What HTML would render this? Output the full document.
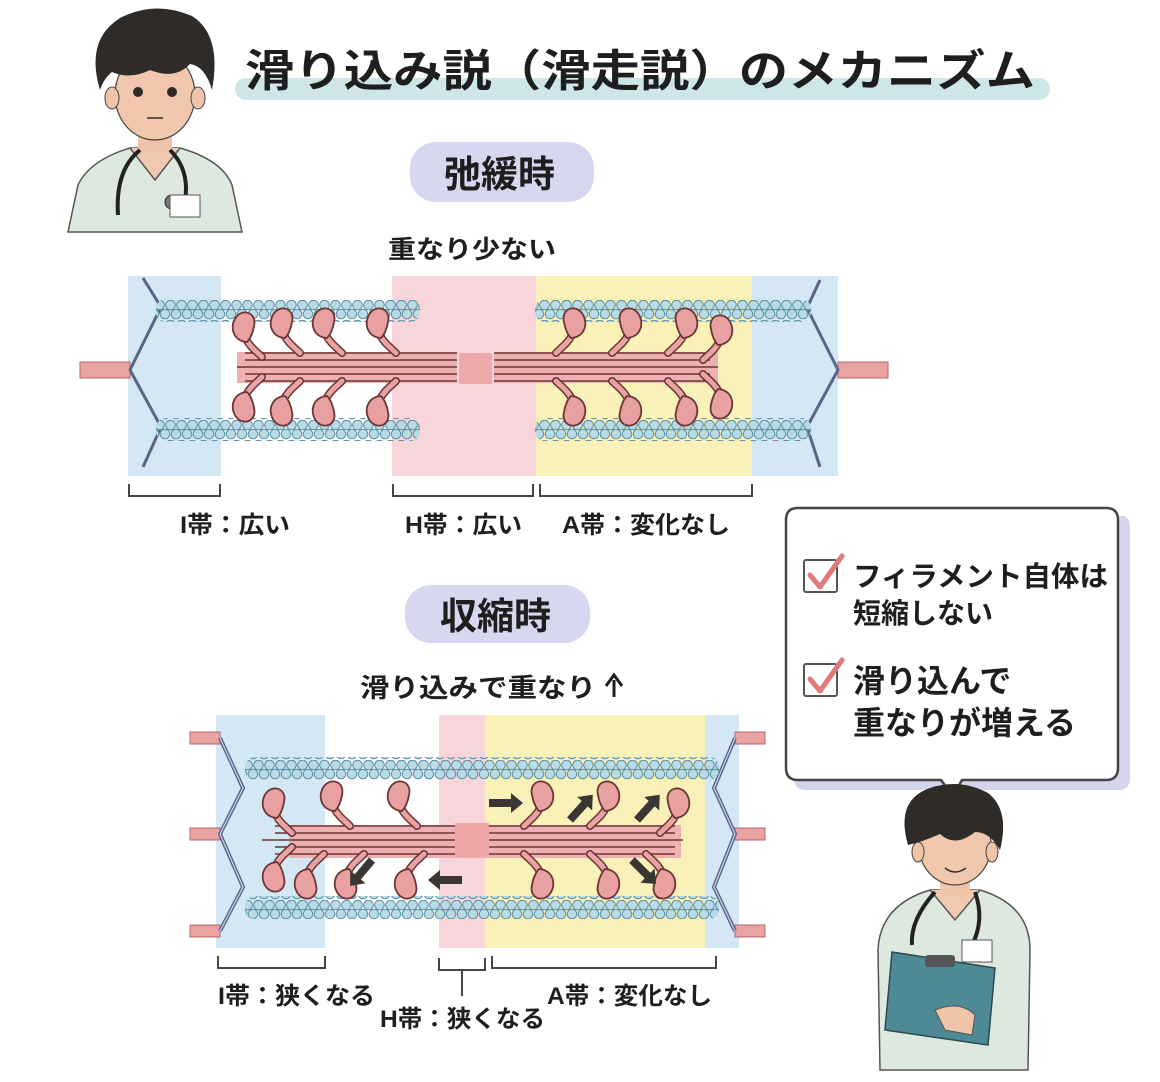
<!DOCTYPE html>
<html><head><meta charset="utf-8">
<style>
html,body{margin:0;padding:0;background:#fff;}
svg{display:block;}
text{font-family:"Liberation Sans","Noto Sans CJK JP",sans-serif;font-weight:bold;fill:#1e1e1e;}
</style></head>
<body>
<svg width="1160" height="1082" viewBox="0 0 1160 1082" xmlns="http://www.w3.org/2000/svg">
<defs>
  <pattern id="beads" x="0" y="0" width="11" height="20" patternUnits="userSpaceOnUse">
    <circle cx="5.5" cy="5" r="4.8" fill="#b8dbe6" stroke="#5a8ea3" stroke-width="1"/>
    <circle cx="0" cy="14" r="4.8" fill="#b8dbe6" stroke="#5a8ea3" stroke-width="1"/>
    <circle cx="11" cy="14" r="4.8" fill="#b8dbe6" stroke="#5a8ea3" stroke-width="1"/>
  </pattern>
  <g id="head">
    <path d="M0,0 C-6,-6 -12,-10 -16,-18" fill="none" stroke="#6b3535" stroke-width="8" stroke-linecap="round"/>
    <path d="M0,0 C-6,-6 -12,-10 -16,-18" fill="none" stroke="#e9a3a3" stroke-width="5" stroke-linecap="round"/>
    <path d="M-15,-15 C-30,-16 -33,-32 -25,-41 C-17,-49 -5,-43 -8,-31 C-9,-24 -12,-18 -15,-15Z" fill="#e9a0a0" stroke="#6b3535" stroke-width="1.8"/>
  </g>
  <g id="arrow">
    <path d="M0,-4 L22,-4 L22,-10 L34,0 L22,10 L22,4 L0,4Z" fill="#3a3633"/>
  </g>
</defs>

<!-- title -->
<rect x="235" y="78" width="815" height="22" rx="11" fill="#cfe6e8"/>
<text x="245" y="86" font-size="44" textLength="790" lengthAdjust="spacingAndGlyphs">滑り込み説（滑走説）のメカニズム</text>

<!-- top-left nurse -->
<g>
  <path d="M68,232 L78,185 Q90,160 130,148 L180,148 Q222,160 232,185 L242,232Z" fill="#dde9df" stroke="#555" stroke-width="1.5"/>
  <path d="M130,148 L155,180 L180,148" fill="#f0c9b0" stroke="#555" stroke-width="1.5"/>
  <rect x="138" y="118" width="34" height="35" fill="#efc4a8"/>
  <ellipse cx="155" cy="95" rx="40" ry="45" fill="#f1c8ad" stroke="#444" stroke-width="1.2"/>
  <ellipse cx="112" cy="98" rx="7" ry="11" fill="#efc4a8" stroke="#444"/>
  <ellipse cx="198" cy="98" rx="7" ry="11" fill="#efc4a8" stroke="#444"/>
  <path d="M100,90 Q85,40 120,18 Q155,0 192,16 Q222,35 212,90 Q205,66 190,64 Q175,80 150,70 Q130,80 112,72 Q104,78 100,90Z" fill="#2e2b29"/>
  <circle cx="138" cy="92" r="5" fill="#2a2a2a"/><circle cx="172" cy="92" r="5" fill="#2a2a2a"/>
  <path d="M147,118 L163,118" stroke="#333" stroke-width="1.5"/>
  <path d="M140,150 Q115,170 118,215 M170,150 Q190,170 185,200" fill="none" stroke="#222" stroke-width="4"/>
  <circle cx="172" cy="202" r="7" fill="#777" stroke="#222"/>
  <rect x="170" y="195" width="30" height="22" fill="#fff" stroke="#555"/>
</g>

<rect x="410" y="142" width="184" height="60" rx="26" fill="#d7d7ef"/>
<text x="444" y="187" font-size="37">弛緩時</text>
<text x="388" y="258" font-size="25" textLength="168" lengthAdjust="spacingAndGlyphs">重なり少ない</text>

<!-- ===== TOP DIAGRAM ===== -->
<rect x="128" y="276" width="93" height="200" fill="#d3e7f5"/>
<rect x="392" y="276" width="144" height="200" fill="#f7d5db"/>
<rect x="536" y="276" width="216" height="200" fill="#f9f1b7"/>
<rect x="752" y="276" width="86" height="200" fill="#d3e7f5"/>
<rect x="80" y="362" width="50" height="16" fill="#eaa3a3" stroke="#b06a6a"/>
<rect x="838" y="362" width="50" height="16" fill="#eaa3a3" stroke="#b06a6a"/>
<polyline points="143,278 161,307 130,370 161,427 143,467" fill="none" stroke="#5c6486" stroke-width="3"/>
<polyline points="820,280 807,308 838,370 807,427 820,467" fill="none" stroke="#5c6486" stroke-width="3"/>
<rect x="156" y="299" width="264" height="23" rx="10" fill="url(#beads)"/>
<rect x="156" y="418" width="264" height="23" rx="10" fill="url(#beads)"/>
<rect x="535" y="299" width="276" height="23" rx="10" fill="url(#beads)"/>
<rect x="535" y="418" width="276" height="23" rx="10" fill="url(#beads)"/>
<rect x="459" y="353" width="33" height="31" fill="#eeaaaa"/>
<rect x="237" y="352" width="220" height="31" fill="#eeb0b0"/>
<rect x="494" y="352" width="224" height="31" fill="#eeb0b0"/>
<g stroke="#6b3535" stroke-width="1.6">
  <line x1="245" y1="353" x2="457" y2="353"/><line x1="245" y1="360" x2="457" y2="360"/><line x1="237" y1="367" x2="457" y2="367"/><line x1="245" y1="374" x2="457" y2="374"/><line x1="245" y1="381" x2="457" y2="381"/>
  <line x1="494" y1="353" x2="710" y2="353"/><line x1="494" y1="360" x2="710" y2="360"/><line x1="494" y1="367" x2="718" y2="367"/><line x1="494" y1="374" x2="710" y2="374"/><line x1="494" y1="381" x2="710" y2="381"/>
</g>
<use href="#head" transform="translate(262,357)"/>
<use href="#head" transform="translate(300,353)"/>
<use href="#head" transform="translate(342,353)"/>
<use href="#head" transform="translate(396,353)"/>
<use href="#head" transform="translate(262,377) scale(1,-1)"/>
<use href="#head" transform="translate(300,381) scale(1,-1)"/>
<use href="#head" transform="translate(342,381) scale(1,-1)"/>
<use href="#head" transform="translate(396,381) scale(1,-1)"/>
<use href="#head" transform="translate(556,353) scale(-1,1)"/>
<use href="#head" transform="translate(612,353) scale(-1,1)"/>
<use href="#head" transform="translate(668,353) scale(-1,1)"/>
<use href="#head" transform="translate(703,360) scale(-1,1)"/>
<use href="#head" transform="translate(556,381) scale(-1,-1)"/>
<use href="#head" transform="translate(612,381) scale(-1,-1)"/>
<use href="#head" transform="translate(668,381) scale(-1,-1)"/>
<use href="#head" transform="translate(703,374) scale(-1,-1)"/>
<g fill="none" stroke="#444" stroke-width="2">
  <polyline points="129,484 129,496 220,496 220,484"/>
  <polyline points="393,484 393,496 533,496 533,484"/>
  <polyline points="540,484 540,496 752,496 752,484"/>
</g>
<text x="180" y="533" font-size="24" textLength="110" lengthAdjust="spacingAndGlyphs">I帯：広い</text>
<text x="405" y="533" font-size="24" textLength="117" lengthAdjust="spacingAndGlyphs">H帯：広い</text>
<text x="562" y="533" font-size="24" textLength="168" lengthAdjust="spacingAndGlyphs">A帯：変化なし</text>

<rect x="405" y="585" width="185" height="58" rx="26" fill="#d7d7ef"/>
<text x="440" y="629" font-size="37">収縮時</text>
<text x="360" y="697" font-size="26" textLength="236" lengthAdjust="spacingAndGlyphs">滑り込みで重なり</text>
<path d="M614,697 L614,680" stroke="#1e1e1e" stroke-width="3"/>
<path d="M606,686 L614,675 L622,686" fill="none" stroke="#1e1e1e" stroke-width="3" stroke-linejoin="miter"/>

<!-- ===== BOTTOM DIAGRAM ===== -->
<rect x="216" y="715" width="109" height="233" fill="#d3e7f5"/>
<rect x="439" y="715" width="46" height="233" fill="#f7d5db"/>
<rect x="485" y="715" width="220" height="233" fill="#f9f1b7"/>
<rect x="705" y="715" width="34" height="233" fill="#d3e7f5"/>
<g fill="#eaa3a3" stroke="#b06a6a">
  <rect x="190" y="732" width="30" height="12"/><rect x="190" y="828" width="30" height="12"/><rect x="190" y="925" width="30" height="12"/>
  <rect x="735" y="732" width="30" height="12"/><rect x="735" y="828" width="30" height="12"/><rect x="735" y="925" width="30" height="12"/>
</g>
<polyline points="220,738 243,788 220,834 243,887 220,931" fill="none" stroke="#5c6486" stroke-width="4"/>
<polyline points="220,738 243,788 220,834 243,887 220,931" fill="none" stroke="#c9d3ee" stroke-width="1.2"/>
<polyline points="735,738 714,788 735,834 714,887 735,931" fill="none" stroke="#5c6486" stroke-width="4"/>
<polyline points="735,738 714,788 735,834 714,887 735,931" fill="none" stroke="#c9d3ee" stroke-width="1.2"/>
<rect x="245" y="757" width="474" height="23" rx="10" fill="url(#beads)"/>
<rect x="245" y="896" width="474" height="23" rx="10" fill="url(#beads)"/>
<rect x="289" y="825" width="392" height="33" fill="#eeb0b0"/>
<rect x="455" y="823" width="34" height="34" fill="#eea6a6"/>
<g stroke="#6b3535" stroke-width="1.6">
  <line x1="275" y1="826" x2="455" y2="826"/><line x1="275" y1="833" x2="455" y2="833"/><line x1="262" y1="840" x2="455" y2="840"/><line x1="275" y1="847" x2="455" y2="847"/><line x1="275" y1="854" x2="455" y2="854"/>
  <line x1="489" y1="826" x2="675" y2="826"/><line x1="489" y1="833" x2="675" y2="833"/><line x1="489" y1="840" x2="683" y2="840"/><line x1="489" y1="847" x2="675" y2="847"/><line x1="489" y1="854" x2="675" y2="854"/>
</g>
<use href="#head" transform="translate(292,833)"/>
<use href="#head" transform="translate(350,826)"/>
<use href="#head" transform="translate(417,826)"/>
<use href="#head" transform="translate(292,847) scale(1,-1)"/>
<use href="#head" transform="translate(324,854) scale(1,-1)"/>
<use href="#head" transform="translate(364,854) scale(1,-1)"/>
<use href="#head" transform="translate(424,854) scale(1,-1)"/>
<use href="#head" transform="translate(524,826) scale(-1,1)"/>
<use href="#head" transform="translate(590,826) scale(-1,1)"/>
<use href="#head" transform="translate(660,833) scale(-1,1)"/>
<use href="#head" transform="translate(524,854) scale(-1,-1)"/>
<use href="#head" transform="translate(590,854) scale(-1,-1)"/>
<use href="#head" transform="translate(646,854) scale(-1,-1)"/>
<use href="#arrow" transform="translate(489,803)"/>
<use href="#arrow" transform="translate(570,820) rotate(-48)"/>
<use href="#arrow" transform="translate(637,820) rotate(-48)"/>
<use href="#arrow" transform="translate(632,860) rotate(45)"/>
<use href="#arrow" transform="translate(372,860) rotate(130)"/>
<use href="#arrow" transform="translate(462,880) rotate(180)"/>
<g fill="none" stroke="#444" stroke-width="2">
  <polyline points="218,956 218,968 325,968 325,956"/>
  <polyline points="439,958 439,970 485,970 485,958"/>
  <line x1="462" y1="970" x2="462" y2="996"/>
  <polyline points="492,956 492,968 716,968 716,956"/>
</g>
<text x="218" y="1004" font-size="24" textLength="157" lengthAdjust="spacingAndGlyphs">I帯：狭くなる</text>
<text x="380" y="1027" font-size="24" textLength="165" lengthAdjust="spacingAndGlyphs">H帯：狭くなる</text>
<text x="547" y="1004" font-size="24" textLength="165" lengthAdjust="spacingAndGlyphs">A帯：変化なし</text>

<!-- speech bubble -->
<path d="M806,516 L1122,516 Q1130,516 1130,528 L1130,778 Q1130,790 1118,790 L806,790 Q794,790 794,778 L794,528 Q794,516 806,516Z" fill="#d4d4ec"/>
<path d="M798,508 L1106,508 Q1118,508 1118,520 L1118,768 Q1118,780 1106,780 L962,780 L953,796 L941,780 L798,780 Q786,780 786,768 L786,520 Q786,508 798,508Z" fill="#fff" stroke="#444" stroke-width="2.5"/>
<rect x="804" y="560" width="33" height="32" rx="2" fill="#fff" stroke="#555" stroke-width="2"/>
<path d="M810,575 L820,587 L842,556" fill="none" stroke="#e07a7a" stroke-width="5" stroke-linecap="round" stroke-linejoin="round"/>
<rect x="804" y="664" width="33" height="32" rx="2" fill="#fff" stroke="#555" stroke-width="2"/>
<path d="M810,679 L820,691 L842,660" fill="none" stroke="#e07a7a" stroke-width="5" stroke-linecap="round" stroke-linejoin="round"/>
<text x="853" y="586" font-size="28" textLength="255" lengthAdjust="spacingAndGlyphs">フィラメント自体は</text>
<text x="853" y="623" font-size="28">短縮しない</text>
<text x="853" y="692" font-size="32">滑り込んで</text>
<text x="853" y="734" font-size="32">重なりが増える</text>

<!-- bottom-right nurse -->
<g>
  <path d="M880,1070 L878,950 Q880,905 930,890 L980,890 Q1030,905 1030,950 L1028,1070Z" fill="#dde9df" stroke="#555" stroke-width="1.5"/>
  <path d="M930,890 L955,920 L980,890" fill="#f0c9b0" stroke="#555" stroke-width="1.5"/>
  <rect x="940" y="860" width="30" height="35" fill="#efc4a8"/>
  <ellipse cx="955" cy="845" rx="36" ry="40" fill="#f1c8ad" stroke="#444" stroke-width="1.2"/>
  <ellipse cx="918" cy="852" rx="6" ry="10" fill="#efc4a8" stroke="#444"/>
  <ellipse cx="992" cy="852" rx="6" ry="10" fill="#efc4a8" stroke="#444"/>
  <path d="M908,845 Q895,800 930,788 Q960,778 988,793 Q1010,810 1000,850 Q990,832 975,832 Q955,848 940,834 Q922,842 908,845Z" fill="#2e2b29"/>
  <path d="M945,868 Q955,876 966,868" fill="none" stroke="#333" stroke-width="1.5"/>
  <path d="M935,892 Q910,920 912,945 M975,892 Q985,920 972,945" fill="none" stroke="#222" stroke-width="4"/>
  <circle cx="970" cy="950" r="7" fill="#888" stroke="#222"/>
  <rect x="962" y="940" width="30" height="22" fill="#fff" stroke="#555"/>
  <path d="M892,952 L995,968 L988,1045 L885,1030Z" fill="#4d8a95" stroke="#2a4a50" stroke-width="1.5"/>
  <rect x="925" y="955" width="30" height="12" rx="3" fill="#555"/>
  <path d="M935,1010 Q960,1000 975,1015 L972,1035 L945,1030Z" fill="#efc4a8" stroke="#555"/>
</g>
</svg>
</body></html>
